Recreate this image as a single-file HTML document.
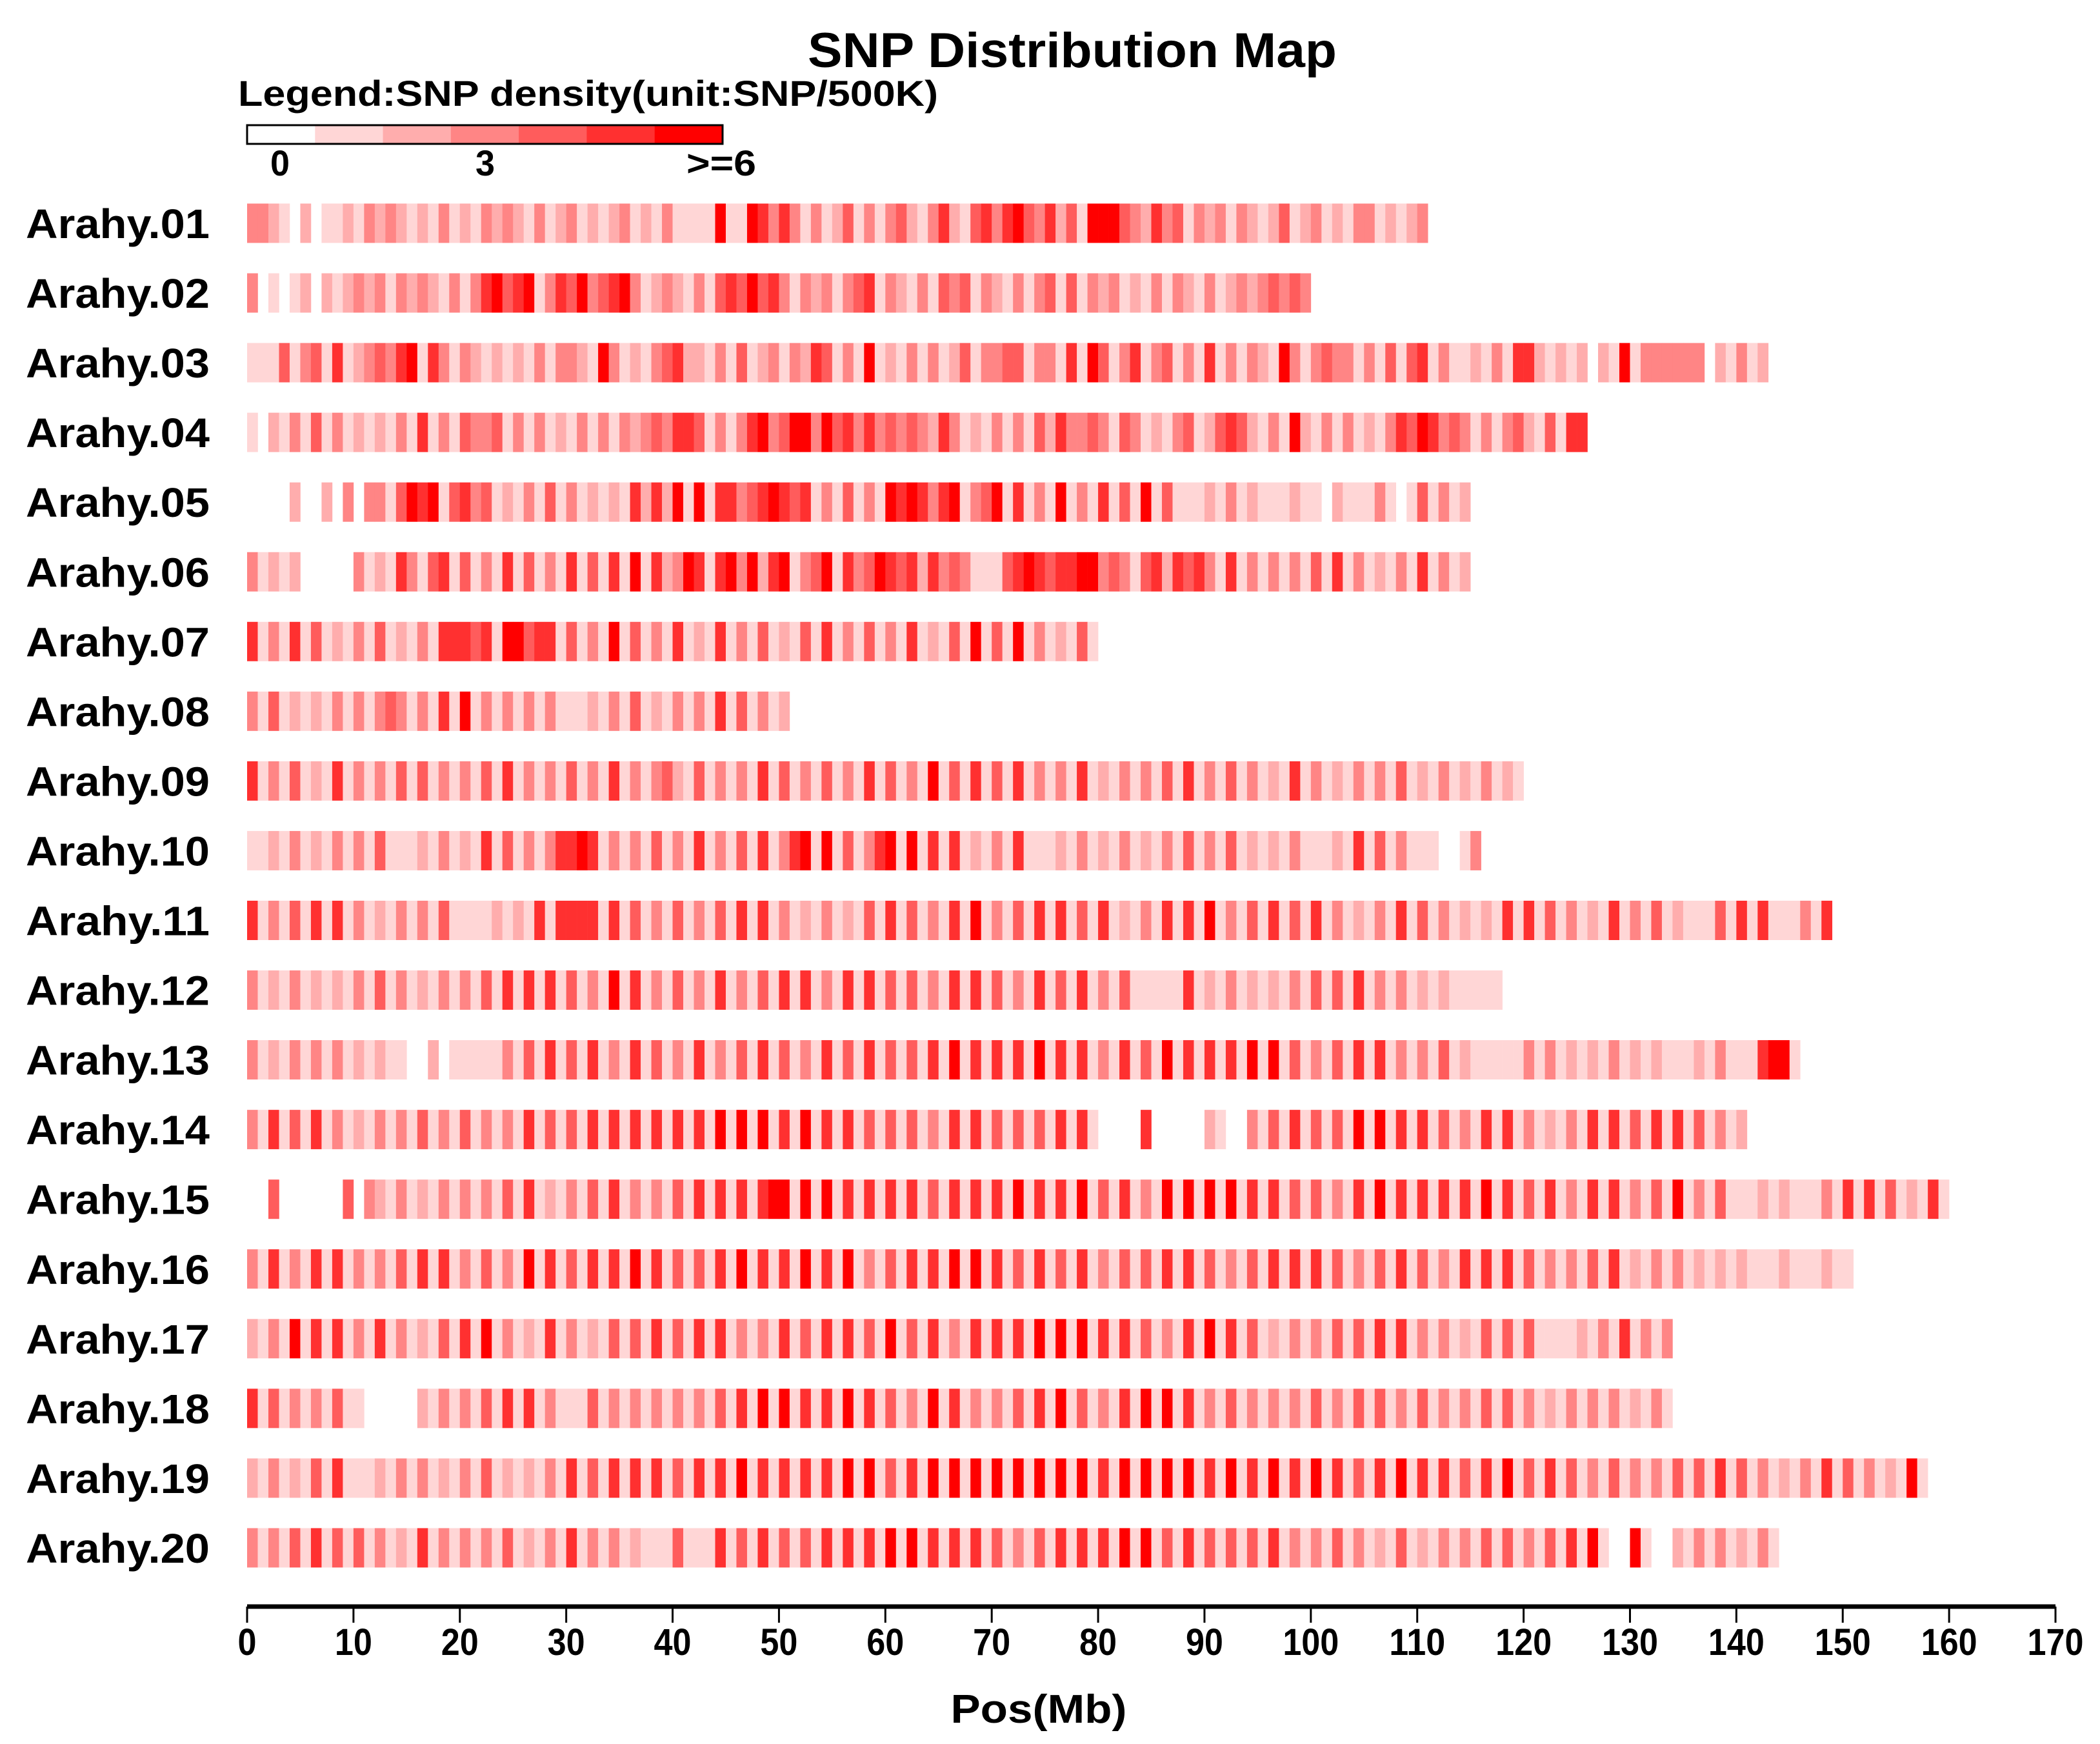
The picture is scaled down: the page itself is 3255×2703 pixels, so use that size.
<!DOCTYPE html>
<html><head><meta charset="utf-8"><style>html,body{margin:0;padding:0;background:#fff}svg{display:block}text{font-family:"Liberation Sans",Arial,sans-serif;font-weight:bold;fill:#000}</style></head>
<body>
<svg id="chart" width="3255" height="2703" viewBox="0 0 3255 2703" xmlns="http://www.w3.org/2000/svg">
<text x="1662" y="104" font-size="76" text-anchor="middle" textLength="820" lengthAdjust="spacingAndGlyphs">SNP Distribution Map</text>
<text x="369" y="164" font-size="56" textLength="1085" lengthAdjust="spacingAndGlyphs">Legend:SNP density(unit:SNP/500K)</text>
<g id="legend"></g>
<text x="434" y="272" font-size="56" text-anchor="middle" textLength="30" lengthAdjust="spacingAndGlyphs">0</text>
<text x="752" y="272" font-size="56" text-anchor="middle" textLength="30" lengthAdjust="spacingAndGlyphs">3</text>
<text x="1118" y="272" font-size="56" text-anchor="middle" textLength="108" lengthAdjust="spacingAndGlyphs">&gt;=6</text>
<g id="rows"></g>
<g id="axis"></g>
<text x="1610" y="2670" font-size="62" text-anchor="middle" textLength="273" lengthAdjust="spacingAndGlyphs">Pos(Mb)</text>
</svg>
<script>
const chromNames = ["Arahy.01","Arahy.02","Arahy.03","Arahy.04","Arahy.05","Arahy.06","Arahy.07","Arahy.08","Arahy.09","Arahy.10","Arahy.11","Arahy.12","Arahy.13","Arahy.14","Arahy.15","Arahy.16","Arahy.17","Arahy.18","Arahy.19","Arahy.20"];
const chromLengths = [112,100,143,126,115,115,80,51,120,116,149,118,146,141,160,155,135,134,158,144];
const densities = [
"3321020112 1323212131 2132321312 3121231213 1111611653 5313124131 3421352145 3564352416 6643253413 2313212412 3121331212 301353",
"3010120212 3231323213 1356456135 4634563123 2131454645 3132313451 3213143413 2131341413 2312131321 3123234343",
"1114134151 2343561531 3212121313 3216312134 5221314123 1325413161 2131312413 3441331516 4135134131 5131321631 3433131414 5131121315 5212120216 1333333021 312",
"1021314131 2121315131 4334131312 1313132343 5541313563 4663645353 4343253121 3131425334 3143121341 2454213162 1313121354 6534313134 214155",
"0000200203 0331465614 5341213141 3121215252 6161553456 5451314131 6565356134 6151316131 5141614111 2131211121 1021113101 4131210313 31",
"3121200000 3121531451 4131514131 5141516152 3651563625 6134615346 5452534311 1456545566 3431452545 3151313131 4151312131 5131213121 3141",
"5131514121 3141213155 5451664551 4131614131 5121513141 2141513141 3151214161 4161312141",
"3141212131 3134313151 6131313131 1121314121 3131514131 2",
"5131412151 3131414131 3141513131 4131513134 2141313151 4131413151 4131614151 4151313151 2131314151 3141312151 3121313141 2131213121",
"1121312131 3141112131 2151413135 5651313141 3151314151 3561614135 6161515121 3151112131 2131213141 3141212131 1121514131 1100131151",
"5131415151 3121313141 1112121515 5551514131 4131415151 3121312141 5141315161 3141515141 5121315151 6131415141 5131213151 4131212151 5141312151 3141211141 5151113151 2131415141",
"3121312121 3141312131 3141515151 4131615131 4131513141 5151315151 4141315151 4131514151 3141111151 2131212131 4141513131 2121111121 31",
"3121313131 2121100201 1111314151 4151315141 3151314151 4131514151 4141516151 5151615151 3151416151 5151616141 3141515131 3141211111 3131212131 2121112131 115661",
"3151415131 2131314131 4131315141 4151515151 5151616161 5161515141 4141315151 4141415151 0000500000 2100314151 4141616151 5141315151 3121315151 4151514131 2111",
"0040000004 0321312131 3131415121 3141513131 4151515156 6161615151 5151415151 5161515161 4151316161 6161515141 4131516151 5151516151 4151315151 3141613141 1121211131 5151412151",
"3151315151 3131415151 3141316151 4151516151 4141516151 5161516131 4151516161 5141514151 3141415151 4131415151 5141314151 4131515151 4131314151 2131312121 2111211121 1",
"2131615151 3151312141 5161312151 3121414151 4151513131 5141515141 6141513151 5151616161 5151413151 6151412131 3141415151 3131214141 4111121315 1313",
"5141313141 1000002131 3141515131 1141313131 3131415161 6151516151 4131615131 3141516141 3151616151 3141313131 4131414131 4131314141 3121313131 2131",
"2131214151 1121313121 3141212131 5141515151 4151516151 5151516161 4151616161 6161616161 5161616161 5161516151 6151415161 5151415161 4151413141 3131414151 4131213151 4131216141",
"3131415141 4131215131 3131412131 5131312111 4111514151 4141515151 6161515151 4131415151 5161614151 4141415131 3141312141 2131314141 3141516100 6100213131 2131313121"
];
const xTicks = [0,10,20,30,40,50,60,70,80,90,100,110,120,130,140,150,160,170];
const legendLevels = [0,1,2,3,4,5,6];

const NS="http://www.w3.org/2000/svg";
const X0=383, X1=3186, MAXMB=170;
function xs(mb){return X0+(X1-X0)*mb/MAXMB;}
function yc(i){return 346+i*108.05;}
const palette=["#ffffff","#ffd6d6","#ffadad","#ff8585","#ff5c5c","#ff3030","#ff0000"];
function mk(tag,attrs,parent){const e=document.createElementNS(NS,tag);for(const k in attrs)e.setAttribute(k,attrs[k]);parent.appendChild(e);return e;}

const lg=document.getElementById('legend');
const segW=(1120-383)/legendLevels.length;
legendLevels.forEach((lv,i)=>{
  const r=mk('rect',{x:383+i*segW,y:194,width:segW+0.5,height:29,fill:palette[lv]},lg);
  
  
});
const lb=mk('rect',{x:383,y:194,width:737,height:29,fill:'none',stroke:'#000','stroke-width':3},lg);



const rows=document.getElementById('rows');
chromNames.forEach((nm,i)=>{
  const g=mk('g',{},rows);
  
  
  const t=mk('text',{x:40,y:yc(i)+23,'font-size':64,textLength:285,lengthAdjust:'spacingAndGlyphs'},g);
  t.textContent=nm;
  
  
  const d=densities[i].replace(/\s/g,'');
  const L=chromLengths[i];
  for(let b=0;b<L && b<d.length;b++){
    const v=+d[b]; if(!v) continue;
    const end=Math.min(b+1,L);
    const r=mk('rect',{x:xs(b),y:yc(i)-30.5,width:xs(end)-xs(b)+0.3,height:61,fill:palette[Math.min(v,6)]},g);
    
    
  }
});

const ax=document.getElementById('axis');
const al=mk('line',{x1:X0,y1:2490,x2:X1,y2:2490,stroke:'#000','stroke-width':7},ax);


xTicks.forEach(v=>{
  const tk=mk('line',{x1:xs(v),y1:2490,x2:xs(v),y2:2515,stroke:'#000','stroke-width':3},ax);
  
  
  const s=String(v);
  const t=mk('text',{x:xs(v),y:2565,'font-size':58,'text-anchor':'middle',textLength:s.length*29,lengthAdjust:'spacingAndGlyphs'},ax);
  t.textContent=s;
  
  
});
</script>
</body></html>
